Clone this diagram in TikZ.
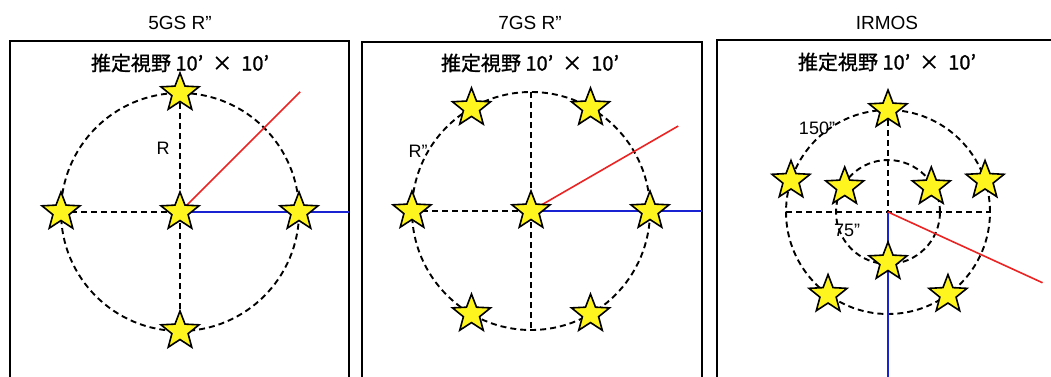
\documentclass[tikz,border=0pt]{standalone}
\usepackage{fontspec}
\setmainfont{Liberation Sans}
\newfontfamily\jpfont{Noto Sans CJK JP}[FakeBold=1.2]
\usetikzlibrary{shapes.geometric}
\definecolor{gsYellow}{RGB}{255,245,30}
\definecolor{gsRed}{RGB}{235,35,35}
\definecolor{gsBlue}{RGB}{25,35,210}
\newcommand{\fovtext}{推定視野 10’\hspace{9pt}×\hspace{9pt}10’}
\tikzset{
  gstar/.style={star, star points=5, star point ratio=2.35, minimum size=40pt,
    inner sep=0pt, fill=gsYellow, draw=black, line width=1.6pt},
  guide/.style={black, line width=1.9pt, dash pattern=on 6pt off 4pt},
  panel/.style={black, line width=1.8pt},
  redray/.style={gsRed, line width=1.6pt},
  blueray/.style={gsBlue, line width=2pt},
  ttl/.style={font=\fontsize{19}{21}\selectfont},
  fov/.style={font=\jpfont\fontsize{20}{22}\selectfont},
  lbl/.style={font=\fontsize{18}{20}\selectfont}
}

\begin{document}
\begin{tikzpicture}[x=1pt,y=1pt]
\useasboundingbox (0,0) rectangle (1051,376);

% 5GS
\begin{scope}[shift={(180,164)}]
\coordinate (a0) at (0,0);
\foreach \ang/\nm in {90/N,180/W,0/E,270/S}
  \coordinate (a\nm) at (\ang:119);
\coordinate (aRed) at (45:170);
\coordinate (aEdge) at (169,0);
\draw[panel] (-170,-170) -- (-170,171) -- (169,171) -- (169,-170);
\node[ttl] (aTitle) at (0,189) {5GS R”};
\node[fov] (aFov) at (0,149) {\fovtext};
\draw[guide] (a0) circle (119);
\draw[guide] (aN) -- (aS);
\draw[guide] (aW) -- (a0);
\draw[blueray] (a0) -- (aEdge);
\draw[redray] (a0) -- (aRed);
\node[lbl] (aLab) at (-17,64) {R};
\foreach \nm in {0,N,W,E,S}
  \node[gstar] (s5\nm) at (a\nm) {};
\end{scope}

% 7GS
\begin{scope}[shift={(531,165)}]
\coordinate (b0) at (0,0);
\foreach \ang/\nm in {0/1,60/2,120/3,180/4,240/5,300/6}
  \coordinate (b\nm) at (\ang:119);
\coordinate (bTop) at (90:119);
\coordinate (bBot) at (270:119);
\coordinate (bRed) at (30:170);
\coordinate (bEdge) at (171,0);
\draw[panel] (-169,-171) -- (-169,169) -- (171,169) -- (171,-171);
\node[ttl] (bTitle) at (-1,188) {7GS R”};
\node[fov] (bFov) at (-1,148) {\fovtext};
\draw[guide] (b0) circle (119);
\draw[guide] (bTop) -- (bBot);
\draw[guide] (b4) -- (b0);
\draw[blueray] (b0) -- (bEdge);
\draw[redray] (b0) -- (bRed);
\node[lbl] (bLab) at (-113,60) {R”};
\foreach \nm in {0,1,2,3,4,5,6}
  \node[gstar] (s7\nm) at (b\nm) {};
\end{scope}

% IRMOS
\begin{scope}[shift={(888,164)}]
\coordinate (c0) at (0,0);
\foreach \ang [count=\i] in {90,162,234,306,18}
  \coordinate (co\i) at (\ang:102);
\foreach \ang [count=\i] in {150,30,270}
  \coordinate (ci\i) at (\ang:50);
\coordinate (cW) at (180:102);
\coordinate (cE) at (0:102);
\coordinate (cRed) at (-24.6:170);
\coordinate (cEdge) at (0,-170);
\draw[panel] (-171,-170) -- (-171,172) -- (175,172);
\node[ttl] (cTitle) at (-1,189) {IRMOS};
\node[fov] (cFov) at (-1,150) {\fovtext};
\draw[guide] (c0) circle (102);
\draw[guide] (c0) circle (52);
\draw[guide] (co1) -- (c0);
\draw[guide] (cW) -- (cE);
\draw[blueray] (c0) -- (cEdge);
\draw[redray] (c0) -- (cRed);
\node[lbl] (cOut) at (-71,84) {150”};
\node[lbl] (cIn) at (-41,-18) {75”};
\foreach \nm in {o1,o2,o3,o4,o5,i1,i2,i3}
  \node[gstar] (sI\nm) at (c\nm) {};
\end{scope}
\end{tikzpicture}
\end{document}
